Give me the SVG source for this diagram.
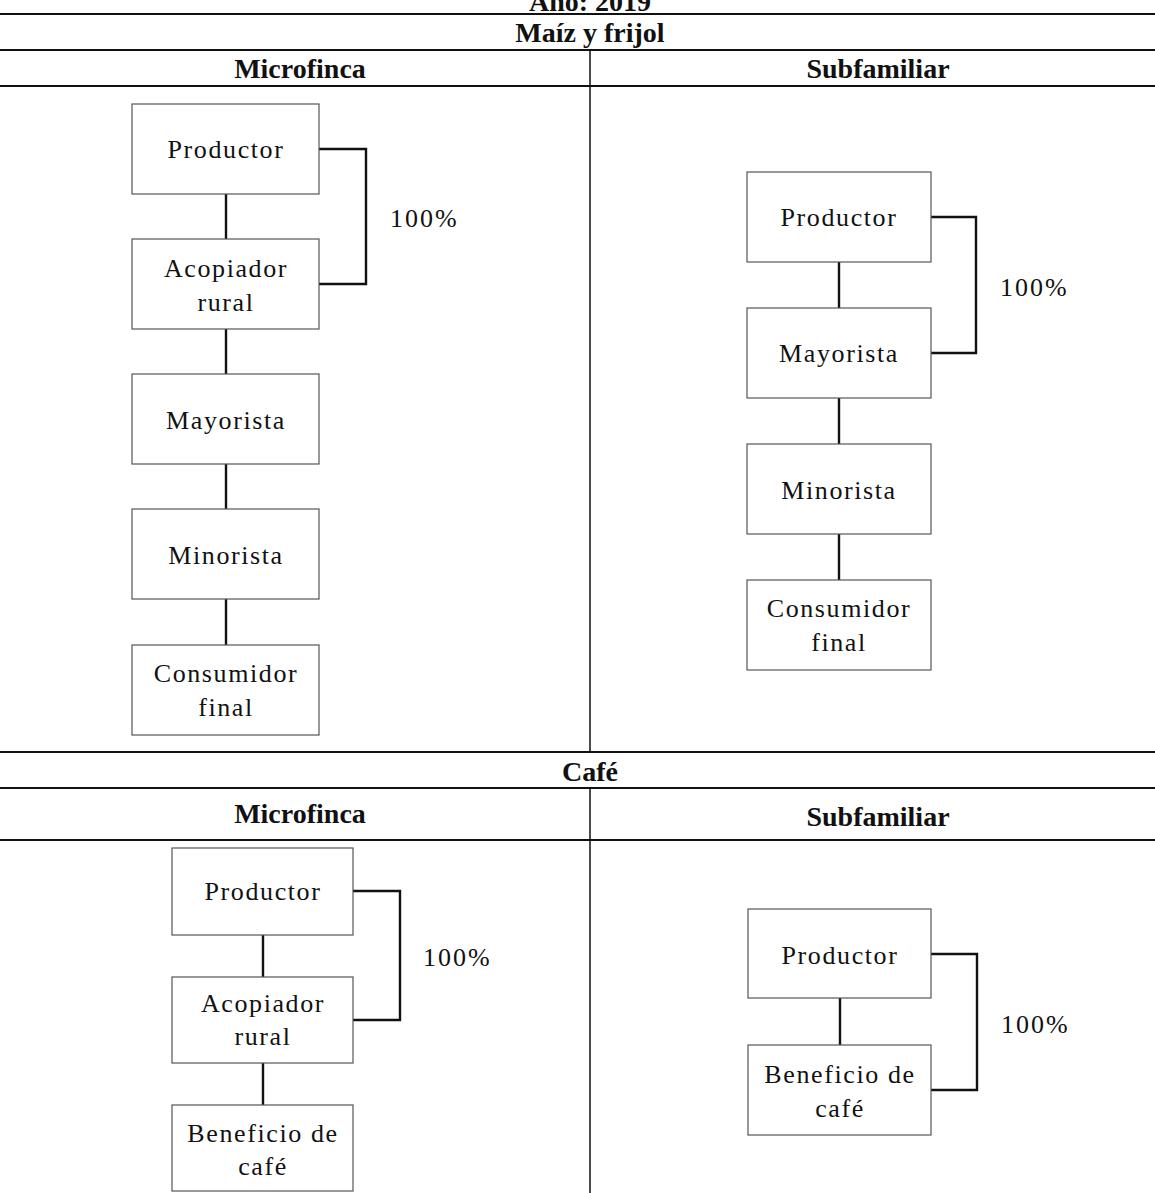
<svg xmlns="http://www.w3.org/2000/svg" width="1155" height="1193" viewBox="0 0 1155 1193">
<style>
.rule{stroke:#111;stroke-width:2;fill:none}
.vrule{stroke:#111;stroke-width:1.5;fill:none}
.box{fill:#fff;stroke:#555;stroke-width:1.2}
.t{font-family:"Liberation Serif",serif;font-size:26px;letter-spacing:1.6px;fill:#111;text-anchor:middle}
.h{font-family:"Liberation Serif",serif;font-size:28px;font-weight:bold;fill:#111;text-anchor:middle}
.p{font-family:"Liberation Serif",serif;font-size:26px;letter-spacing:2px;fill:#111}
.c{stroke:#111;stroke-width:2.4;fill:none}
</style>
<rect width="1155" height="1193" fill="#fff"/>
<g id="table">
<text class="h" x="590" y="11">Año: 2019</text>
<line class="rule" x1="0" y1="14" x2="1155" y2="14"/>
<text class="h" x="590" y="42">Maíz y frijol</text>
<line class="rule" x1="0" y1="50" x2="1155" y2="50"/>
<text class="h" x="300" y="78">Microfinca</text>
<text class="h" x="878" y="78">Subfamiliar</text>
<line class="rule" x1="0" y1="86" x2="1155" y2="86"/>
<line class="vrule" x1="590" y1="50" x2="590" y2="752"/>
<line class="rule" x1="0" y1="752" x2="1155" y2="752"/>
<text class="h" x="590" y="781">Café</text>
<line class="rule" x1="0" y1="788" x2="1155" y2="788"/>
<text class="h" x="300" y="823">Microfinca</text>
<text class="h" x="878" y="826">Subfamiliar</text>
<line class="rule" x1="0" y1="840" x2="1155" y2="840"/>
<line class="vrule" x1="590" y1="788" x2="590" y2="1193"/>
</g>
<g id="connectors">
<line class="c" x1="226" y1="194" x2="226" y2="239"/>
<line class="c" x1="226" y1="329" x2="226" y2="374"/>
<line class="c" x1="226" y1="464" x2="226" y2="509"/>
<line class="c" x1="226" y1="599" x2="226" y2="645"/>
<polyline class="c" points="319,149 366,149 366,284 319,284"/>
<line class="c" x1="839" y1="262" x2="839" y2="308"/>
<line class="c" x1="839" y1="398" x2="839" y2="444"/>
<line class="c" x1="839" y1="534" x2="839" y2="580"/>
<polyline class="c" points="931,217 976,217 976,353 931,353"/>
<line class="c" x1="263" y1="935" x2="263" y2="977"/>
<line class="c" x1="263" y1="1063" x2="263" y2="1105"/>
<polyline class="c" points="353,891 400,891 400,1020 353,1020"/>
<line class="c" x1="840" y1="998" x2="840" y2="1045"/>
<polyline class="c" points="931,954 977,954 977,1090 931,1090"/>
</g>
<g id="labels">
<text class="p" x="390" y="227">100%</text>
<text class="p" x="1000" y="296">100%</text>
<text class="p" x="423" y="966">100%</text>
<text class="p" x="1001" y="1033">100%</text>
</g>
<g id="mf-productor"><rect class="box" x="132" y="104" width="187" height="90"/><text class="t" x="226" y="158">Productor</text></g>
<g id="mf-acopiador"><rect class="box" x="132" y="239" width="187" height="90"/><text class="t" x="226" y="277">Acopiador</text><text class="t" x="226" y="311">rural</text></g>
<g id="mf-mayorista"><rect class="box" x="132" y="374" width="187" height="90"/><text class="t" x="226" y="429">Mayorista</text></g>
<g id="mf-minorista"><rect class="box" x="132" y="509" width="187" height="90"/><text class="t" x="226" y="564">Minorista</text></g>
<g id="mf-consumidor"><rect class="box" x="132" y="645" width="187" height="90"/><text class="t" x="226" y="682">Consumidor</text><text class="t" x="226" y="716">final</text></g>
<g id="sf-productor"><rect class="box" x="747" y="172" width="184" height="90"/><text class="t" x="839" y="226">Productor</text></g>
<g id="sf-mayorista"><rect class="box" x="747" y="308" width="184" height="90"/><text class="t" x="839" y="362">Mayorista</text></g>
<g id="sf-minorista"><rect class="box" x="747" y="444" width="184" height="90"/><text class="t" x="839" y="499">Minorista</text></g>
<g id="sf-consumidor"><rect class="box" x="747" y="580" width="184" height="90"/><text class="t" x="839" y="617">Consumidor</text><text class="t" x="839" y="651">final</text></g>
<g id="cmf-productor"><rect class="box" x="172" y="848" width="181" height="87"/><text class="t" x="263" y="900">Productor</text></g>
<g id="cmf-acopiador"><rect class="box" x="172" y="977" width="181" height="86"/><text class="t" x="263" y="1012">Acopiador</text><text class="t" x="263" y="1045">rural</text></g>
<g id="cmf-beneficio"><rect class="box" x="172" y="1105" width="181" height="86"/><text class="t" x="263" y="1142">Beneficio de</text><text class="t" x="263" y="1175">café</text></g>
<g id="csf-productor"><rect class="box" x="748" y="909" width="183" height="89"/><text class="t" x="840" y="964">Productor</text></g>
<g id="csf-beneficio"><rect class="box" x="748" y="1045" width="183" height="90"/><text class="t" x="840" y="1083">Beneficio de</text><text class="t" x="840" y="1117">café</text></g>
</svg>
